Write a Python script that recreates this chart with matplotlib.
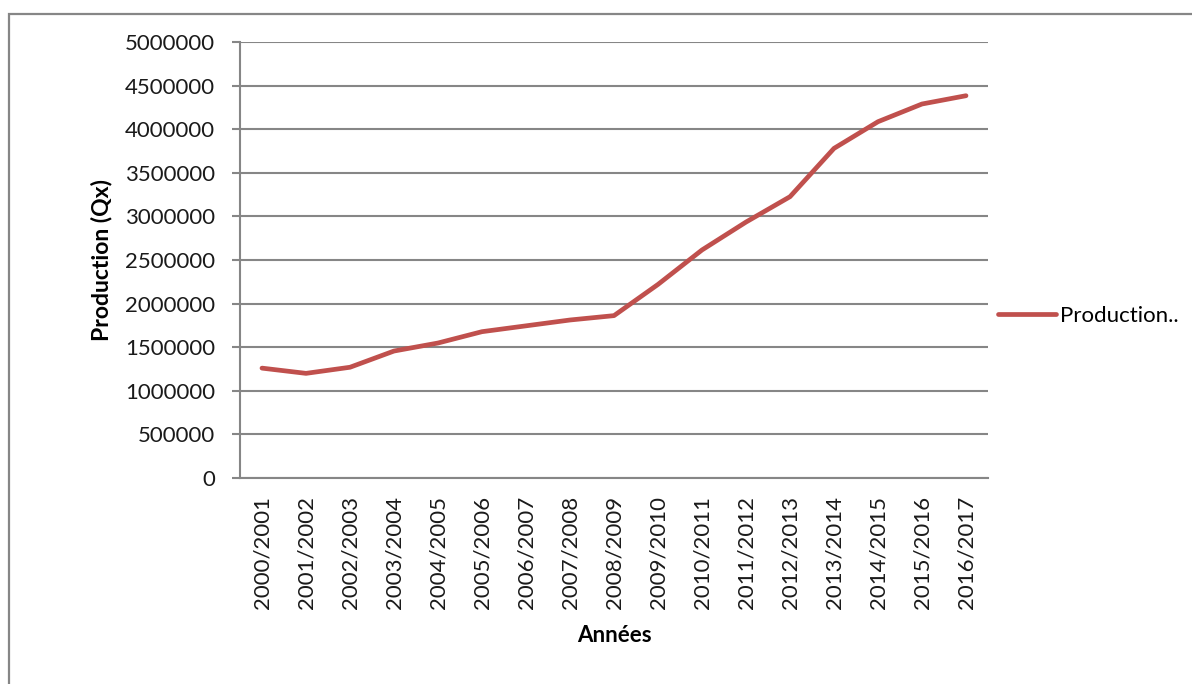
import matplotlib
matplotlib.use("Agg")
import matplotlib.pyplot as plt
from matplotlib.patches import Rectangle

plt.rcParams['font.family'] = ['Lato', 'DejaVu Sans']

campagnes = ["2000/2001", "2001/2002", "2002/2003", "2003/2004", "2004/2005",
             "2005/2006", "2006/2007", "2007/2008", "2008/2009", "2009/2010",
             "2010/2011", "2011/2012", "2012/2013", "2013/2014", "2014/2015",
             "2015/2016", "2016/2017"]
production_qx = [1260000, 1200000, 1270000, 1456000, 1548000,
                 1678000, 1745000, 1812000, 1862000, 2220000,
                 2615000, 2935000, 3226000, 3780000, 4086000,
                 4289000, 4384000]
y_ticks = [0, 500000, 1000000, 1500000, 2000000, 2500000,
           3000000, 3500000, 4000000, 4500000, 5000000]

W, H = 1192, 684
fig = plt.figure(figsize=(W / 100, H / 100), dpi=100)
fig.patch.set_facecolor("white")

grey = "#868686"
fs = 16
ax = fig.add_axes([240 / W, (H - 478) / H, 748 / W, 436 / H])

x = list(range(len(campagnes)))
ax.plot(x, production_qx, color="#C0504D", lw=3.4, solid_capstyle="round",
        solid_joinstyle="round", label="Production..", zorder=3)

ax.set_xlim(-0.5, len(campagnes) - 0.5)
ax.set_ylim(0, 5000000)
ax.set_yticks(y_ticks)
ax.set_yticklabels([str(v) for v in y_ticks], fontsize=fs, color="#1a1a1a")
ax.set_xticks(x)
ax.set_xticklabels(campagnes, rotation=90, fontsize=fs, color="#1a1a1a")

ax.grid(axis="y", color=grey, lw=1.5, zorder=0)
ax.set_axisbelow(True)
for side in ("top", "right"):
    ax.spines[side].set_visible(False)
for side in ("left", "bottom"):
    ax.spines[side].set_color(grey)
    ax.spines[side].set_linewidth(1.5)
ax.tick_params(axis="y", length=6, width=1.5, color=grey, pad=12)
ax.tick_params(axis="x", length=0, pad=13)

ax.set_ylabel("Production (Qx)", fontsize=16.5, fontweight="bold", labelpad=9)
ax.set_xlabel("Années", fontsize=16, fontweight="bold", labelpad=11)

leg = ax.legend(loc="center left", bbox_to_anchor=(998 / W, 1 - 316 / H),
                bbox_transform=fig.transFigure, frameon=False,
                fontsize=fs, handlelength=2.6, handletextpad=0.2,
                borderpad=0, borderaxespad=0)

# outer chart-area border
fig.patches.append(Rectangle((9 / W, -0.2), 1.5, 1 - 14 / H + 0.2,
                             transform=fig.transFigure, fill=False,
                             edgecolor=grey, lw=1.6))

fig.savefig("out.png", dpi=100, facecolor="white")
